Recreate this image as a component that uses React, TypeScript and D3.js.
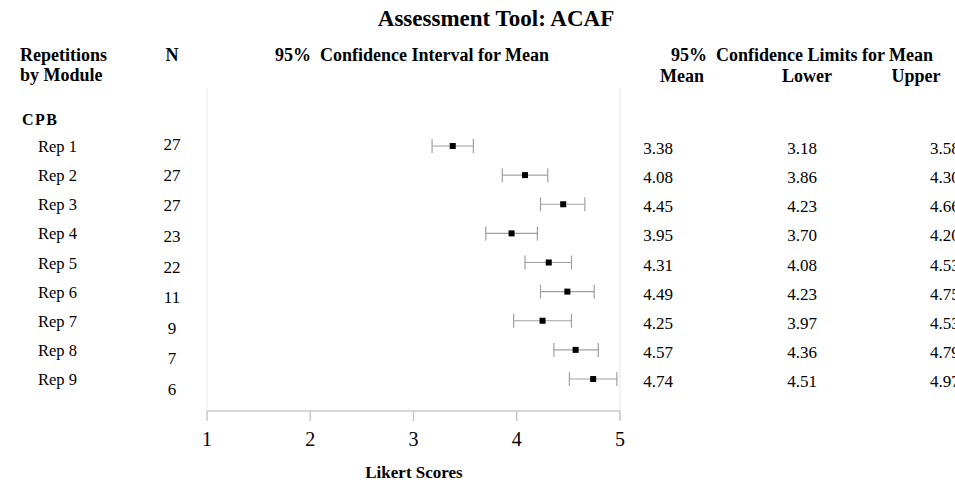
import React from "react";
import * as d3 from "d3";

const reps = ["Rep 1", "Rep 2", "Rep 3", "Rep 4", "Rep 5", "Rep 6", "Rep 7", "Rep 8", "Rep 9"];
const nValues = [27, 27, 27, 23, 22, 11, 9, 7, 6];
const means = [3.38, 4.08, 4.45, 3.95, 4.31, 4.49, 4.25, 4.57, 4.74];
const lowers = [3.18, 3.86, 4.23, 3.7, 4.08, 4.23, 3.97, 4.36, 4.51];
const uppers = [3.58, 4.3, 4.66, 4.2, 4.53, 4.75, 4.53, 4.79, 4.97];
const xTicks = [1, 2, 3, 4, 5];

const FONT = "'Liberation Serif', 'Times New Roman', serif";

export default function App() {
  const x = d3.scaleLinear().domain([1, 5]).range([207, 620]);
  const y = d3.scalePoint<string>().domain(reps).range([146, 379]);
  const yN = d3.scalePoint<string>().domain(reps).range([150, 395]);
  const fmt = d3.format(".2f");

  return (
    <svg
      width={955}
      height={482}
      style={{ position: "absolute", left: 0, top: 0, background: "#fff" }}
      fontFamily={FONT}
    >
      <rect x={0} y={0} width={955} height={482} fill="#fff" />
      {/* Title */}
      <text x={496} y={26} textAnchor="middle" fontWeight="bold" fontSize={23}>
        Assessment Tool: ACAF
      </text>
      {/* Headers */}
      <text x={20} y={61} fontWeight="bold" fontSize={18}>Repetitions</text>
      <text x={20} y={81} fontWeight="bold" fontSize={18}>by Module</text>
      <text x={172} y={61} textAnchor="middle" fontWeight="bold" fontSize={18}>N</text>
      <text x={412} y={61} textAnchor="middle" fontWeight="bold" fontSize={18} style={{ whiteSpace: "pre" }}>
        {"95%  Confidence Interval for Mean"}
      </text>
      <text x={802} y={61} textAnchor="middle" fontWeight="bold" fontSize={18} style={{ whiteSpace: "pre" }}>
        {"95%  Confidence Limits for Mean"}
      </text>
      <text x={682} y={82} textAnchor="middle" fontWeight="bold" fontSize={18}>Mean</text>
      <text x={807} y={82} textAnchor="middle" fontWeight="bold" fontSize={18}>Lower</text>
      <text x={916} y={82} textAnchor="middle" fontWeight="bold" fontSize={18}>Upper</text>
      <text x={22} y={125} fontWeight="bold" fontSize={16} letterSpacing={1.5}>CPB</text>

      {/* Plot frame lines */}
      <line x1={x(1)} x2={x(1)} y1={88} y2={411} stroke="#e8e8e8" strokeWidth={1} />
      <line x1={x(5)} x2={x(5)} y1={88} y2={420} stroke="#e8e8e8" strokeWidth={1} />

      {/* X axis */}
      <line x1={x(1)} x2={x(5)} y1={411} y2={411} stroke="#c8c8c8" strokeWidth={1.5} />
      {xTicks.map((t) => (
        <g key={t}>
          <line x1={x(t)} x2={x(t)} y1={411} y2={421} stroke="#c8c8c8" strokeWidth={1.5} />
          <text x={x(t)} y={446} textAnchor="middle" fontSize={20}>{t}</text>
        </g>
      ))}
      <text x={414} y={478} textAnchor="middle" fontWeight="bold" fontSize={17}>Likert Scores</text>

      {/* Rows */}
      {reps.map((r, i) => {
        const cy = y(r) as number;
        return (
          <g key={r}>
            <text x={38} y={cy + 6} fontSize={16.5}>{r}</text>
            <text x={172} y={(yN(r) as number)} textAnchor="middle" fontSize={17}>{nValues[i]}</text>
            <line x1={x(lowers[i])} x2={x(uppers[i])} y1={cy} y2={cy} stroke="#a0a0a0" strokeWidth={1.2} />
            <line x1={x(lowers[i])} x2={x(lowers[i])} y1={cy - 7} y2={cy + 7} stroke="#a0a0a0" strokeWidth={1.2} />
            <line x1={x(uppers[i])} x2={x(uppers[i])} y1={cy - 7} y2={cy + 7} stroke="#a0a0a0" strokeWidth={1.2} />
            <rect x={x(means[i]) - 3} y={cy - 3} width={6} height={6} fill="#000" />
            <text x={658} y={cy + 8} textAnchor="middle" fontSize={17}>{fmt(means[i])}</text>
            <text x={802} y={cy + 8} textAnchor="middle" fontSize={17}>{fmt(lowers[i])}</text>
            <text x={930} y={cy + 8} textAnchor="start" fontSize={17}>{fmt(uppers[i])}</text>
          </g>
        );
      })}
    </svg>
  );
}
